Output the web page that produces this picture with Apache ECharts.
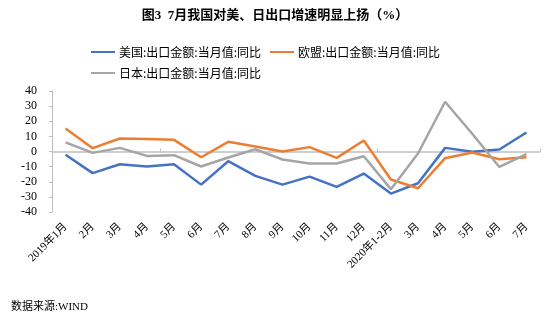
<!DOCTYPE html>
<html><head><meta charset="utf-8">
<script src="https://cdn.jsdelivr.net/npm/echarts@6/dist/echarts.min.js"></script>
<style>html,body{margin:0;padding:0;background:#fff}#c{width:550px;height:323px}</style>
</head><body><div id="c"></div>
<script>
var categories = ['2019年1月','2月','3月','4月','5月','6月','7月','8月','9月','10月','11月','12月','2020年1-2月','3月','4月','5月','6月','7月'];
var usValues = [-2.2,-14.3,-8.4,-9.9,-8.4,-21.9,-6.4,-16.1,-21.9,-16.6,-23.4,-14.6,-27.8,-21.0,2.4,-0.2,1.3,12.6];
var euValues = [15.2,2.2,8.6,8.2,7.7,-3.8,6.4,3.3,0.0,2.9,-4.2,7.3,-18.5,-24.3,-4.4,-0.7,-5.1,-3.8];
var jpValues = [6.0,-0.9,2.4,-2.9,-2.4,-9.9,-4.0,1.5,-5.3,-7.9,-7.9,-3.1,-24.9,-1.3,32.9,11.7,-10.2,-1.8];
var seriesNames = ['美国:出口金额:当月值:同比','欧盟:出口金额:当月值:同比','日本:出口金额:当月值:同比'];
var yTicks = {min:-40, max:40, interval:10};
var titleText = '图3  7月我国对美、日出口增速明显上扬（%）';
var sourceText = '数据来源:WIND';

var serif = '"Liberation Serif","Noto Sans CJK SC",serif';
var colors = ['#4472C4','#ED7D31','#A5A5A5'];
var chart = echarts.init(document.getElementById('c'));
function mk(name, data, i){
  return {name:name, type:'line', data:data, xAxisIndex:0, symbol:'none',
    lineStyle:{width:2.5, color:colors[i]}, itemStyle:{color:colors[i]}, animation:false};
}
chart.setOption({
  animation:false,
  title:[
    {text:titleText, left:'center', top:4, textStyle:{fontSize:13, fontWeight:'bold', color:'#000', fontFamily:serif}},
    {text:sourceText, left:6, top:297, textStyle:{fontSize:11, fontWeight:'normal', color:'#000', fontFamily:serif}}
  ],
  legend:{
    left:86, top:41, width:385, itemWidth:24, itemHeight:2, itemGap:9,
    icon:'rect', data:seriesNames,
    textStyle:{fontSize:12, color:'#000', fontFamily:'"Noto Sans CJK SC",sans-serif', padding:[0,0,0,-1]}
  },
  grid:{left:52, right:10, top:91, bottom:111, containLabel:false},
  xAxis:[
    {type:'category', data:categories, position:'bottom', boundaryGap:true,
     axisLine:{show:false, onZero:false}, axisTick:{show:false},
     axisLabel:{rotate:45, interval:0, fontSize:11, color:'#000', margin:13, fontFamily:serif}},
    {type:'category', data:categories, boundaryGap:true,
     axisLine:{show:true, onZero:true, lineStyle:{color:'#BFBFBF', width:1.5}},
     axisTick:{show:true, length:3, lineStyle:{color:'#BFBFBF'}},
     axisLabel:{show:false}}
  ],
  yAxis:{type:'value', min:yTicks.min, max:yTicks.max, interval:yTicks.interval,
    axisLine:{show:true, lineStyle:{color:'#BFBFBF'}},
    axisTick:{show:true, length:3, lineStyle:{color:'#BFBFBF'}},
    splitLine:{show:false},
    axisLabel:{fontSize:12, color:'#000', margin:15, fontFamily:serif}},
  series:[mk(seriesNames[0],usValues,0), mk(seriesNames[1],euValues,1), mk(seriesNames[2],jpValues,2)]
});
</script></body></html>
